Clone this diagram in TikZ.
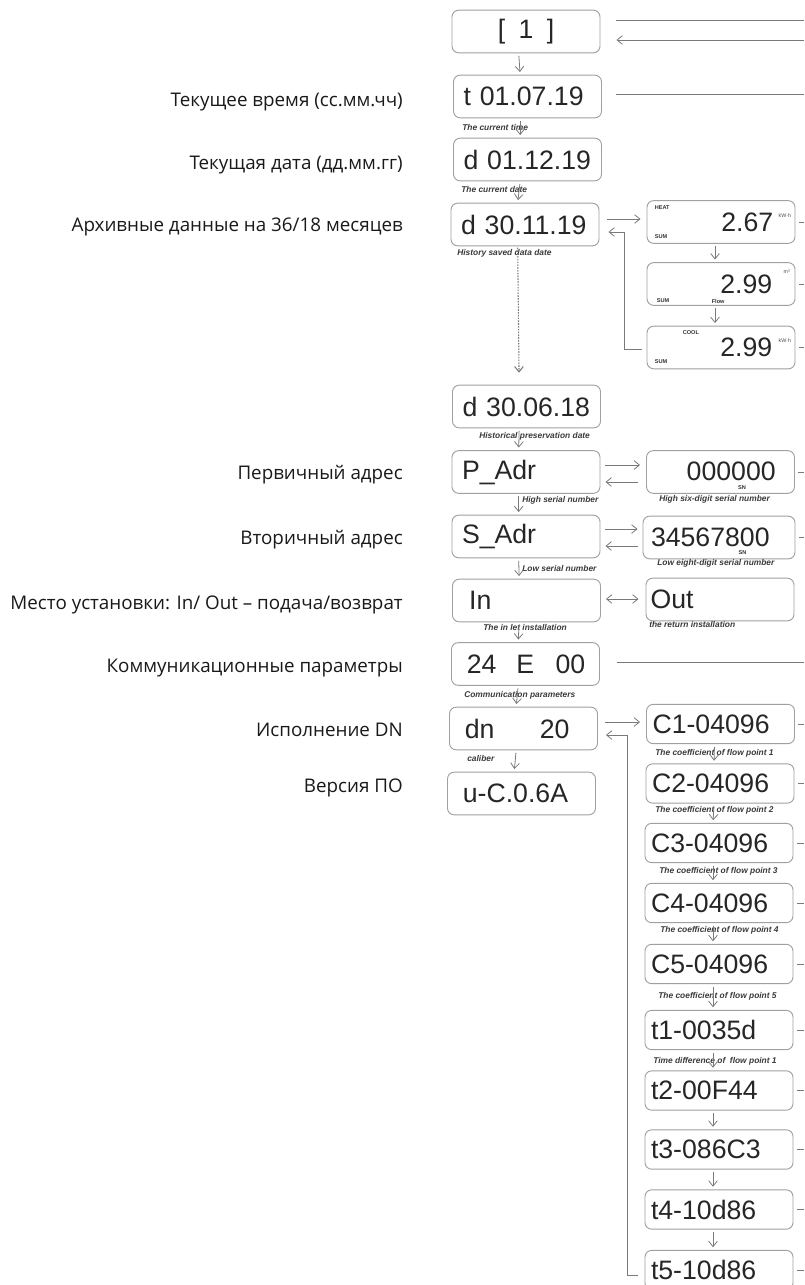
\documentclass[tikz,border=0pt]{standalone}
\usepackage{fontspec}
\setmainfont{Open Sans}
\newfontfamily\lcdfont{Liberation Sans}
\newfontfamily\capfont{Liberation Sans}
\usetikzlibrary{arrows.meta,positioning}

\definecolor{boxgray}{HTML}{A0A0A0}
\definecolor{arrgray}{HTML}{7A7A7A}
\definecolor{capgray}{HTML}{3A3A3A}
\definecolor{seggray}{HTML}{262626}

\tikzset{
	lcd/.style={draw=boxgray, line width=0.7pt, rounded corners=5pt, minimum width=111pt, minimum height=32pt,
		text width=96pt, inner xsep=7.5pt, inner ysep=0pt, align=left, text=seggray, font=\lcdfont\fontsize{20}{20}\selectfont},
	lcds/.style={lcd, minimum height=29.5pt},
	seg/.style={font=\lcdfont\fontsize{20}{20}\selectfont, text=seggray, inner sep=0pt},
	capt/.style={font=\capfont\bfseries\itshape\fontsize{6.3}{7}\selectfont, text=capgray, inner sep=0pt, anchor=west},
	small/.style={font=\capfont\bfseries\fontsize{4.2}{5}\selectfont, text=black!80, inner sep=0pt, anchor=west},
	unit/.style={font=\capfont\fontsize{4}{5}\selectfont, text=black!70, inner sep=0pt, anchor=west},
	lab/.style={font=\fontsize{14.1}{16}\selectfont, text=black!90, anchor=east, inner sep=0pt},
	ln/.style={draw=arrgray, line width=0.6pt},
	arr/.style={ln, -{Straight Barb[length=4pt,width=6.5pt]}},
}

\begin{document}
\begin{tikzpicture}[x=0.75pt, y=-0.75pt]
	\clip (0,0) rectangle (804,1285);
	\coordinate (o1) at (804,20);
	\coordinate (o2) at (804,40);
	\coordinate (o3) at (804,94);
	\coordinate (o9) at (804,662);

	% left column
	\node[lcd, align=center] (cl) at (526,31.5) {[\hspace{10pt}1\hspace{10pt}]};
	\node[lcd] (tim) at (527.5,96.5) {t 01.07.19};
	\node[lcd] (dat) at (527.5,159.5) {d 01.12.19};
	\node[lcd] (his) at (525,224.5) {d 30.11.19};
	\node[lcd] (hisend) at (526.5,406.5) {d 30.06.18};
	\node[lcd] (padr) at (526,472) {P\_Adr};
	\node[lcd] (sadr) at (526,536.5) {S\_Adr};
	\node[lcd] (inl) at (526.5,600.5) {\hspace{5pt}In};
	\node[lcd] (com) at (525.5,664) {\hspace{4pt}24\hspace{15pt}E\hspace{16pt}00};
	\node[lcd] (dn) at (523.5,728.5) {\hspace{4pt}dn\hspace{34pt}20};
	\node[lcd] (ver) at (521.5,793.5) {\hspace{4pt}u-C.0.6A};

	\node[lab] (ltim) at (403,102) {Текущее время (сс.мм.чч)};
	\node[lab] (ldat) at (403,165) {Текущая дата (дд.мм.гг)};
	\node[lab] (lhis) at (403,227) {Архивные данные на 36/18 месяцев};
	\node[lab] (lpadr) at (403,475) {Первичный адрес};
	\node[lab] (lsadr) at (403,540) {Вторичный адрес};
	\node[lab] (linl) at (403,605) {Место установки: In/ Out – подача/возврат};
	\node[lab] (lcom) at (403,668) {Коммуникационные параметры};
	\node[lab] (ldn) at (403,730) {Исполнение DN};
	\node[lab] (lver) at (403,788) {Версия ПО};

	% right column
	\node[lcd] (heat) at (721,222) {};
	\node[lcd] (flow) at (721,284) {};
	\node[lcd] (cool) at (721,347.5) {};
	\node[lcd] (sn6) at (720.5,472) {};
	\node[lcd, minimum width=114pt] (sn8) at (719,537.5) {\hspace{-3pt}34567800};
	\node[lcd] (out) at (720,599.5) {\hspace{-4pt}Out};
	\node[lcds] (c1) at (720.5,724) {\hspace{-3pt}C1-04096};
	\node[lcds] (c2) at (720,783.5) {\hspace{-3pt}C2-04096};
	\node[lcds] (c3) at (719,843) {\hspace{-3pt}C3-04096};
	\node[lcds] (c4) at (719,903) {\hspace{-3pt}C4-04096};
	\node[lcds] (c5) at (719,964) {\hspace{-3pt}C5-04096};
	\node[lcds] (t1) at (719,1030) {\hspace{-3pt}t1-0035d};
	\node[lcds] (t2) at (719,1090.5) {\hspace{-3pt}t2-00F44};
	\node[lcds] (t3) at (719,1149.5) {\hspace{-3pt}t3-086C3};
	\node[lcds] (t4) at (719,1209.5) {\hspace{-3pt}t4-10d86};
	\node[lcds] (t5) at (719,1270) {\hspace{-3pt}t5-10d86};

	\node[seg, anchor=east] (heatv) at ([shift={(-22,0)}]heat.east) {2.67};
	\node[unit] (heatu) at ([shift={(-17,-6)}]heat.east) {kW·h};
	\node[small] (heatt) at ([shift={(8,-14)}]heat.west) {HEAT};
	\node[small] (heats) at ([shift={(8,15)}]heat.west) {SUM};
	\node[seg, anchor=east] (flowv) at ([shift={(-23,0)}]flow.east) {2.99};
	\node[unit] (flowu) at ([shift={(-12,-12)}]flow.east) {m³};
	\node[small] (flows) at ([shift={(10,17)}]flow.west) {SUM};
	\node[small] (flowf) at ([shift={(65,17)}]flow.west) {Flow};
	\node[seg, anchor=east] (coolv) at ([shift={(-23,0)}]cool.east) {2.99};
	\node[unit] (coolu) at ([shift={(-17,-7)}]cool.east) {kW·h};
	\node[small] (coolt) at ([shift={(36,-15)}]cool.west) {COOL};
	\node[small] (cools) at ([shift={(8,14)}]cool.west) {SUM};
	\node[seg, anchor=east] (sn6v) at ([shift={(-19,-1)}]sn6.east) {000000};
	\node[small] (sn6s) at ([shift={(-57,16)}]sn6.east) {SN};
	\node[small] (sn8s) at ([shift={(-57,15)}]sn8.east) {SN};

	% captions
	\node[capt] (ctim) at (462,127) {The current time};
	\node[capt] (cdat) at (461,189) {The current date};
	\node[capt] (chis) at (457,253) {History saved data date};
	\node[capt] (chisend) at (479,436) {Historical preservation date};
	\node[capt] (cpadr) at (522,500) {High serial number};
	\node[capt] (csn6) at (659,499) {High six-digit serial number};
	\node[capt] (csadr) at (522,568) {Low serial number};
	\node[capt] (csn8) at (657,563) {Low eight-digit serial number};
	\node[capt] (cinl) at (483,627) {The in let installation};
	\node[capt] (cout) at (649,624) {the return installation};
	\node[capt] (ccom) at (464,695) {Communication parameters};
	\node[capt] (cdn) at (467,758) {caliber};
	\node[capt] (cc1) at (655,753) {The coefficient of flow point 1};
	\node[capt] (cc2) at (655,810) {The coefficient of flow point 2};
	\node[capt] (cc3) at (659,871) {The coefficient of flow point 3};
	\node[capt] (cc4) at (660,930) {The coefficient of flow point 4};
	\node[capt] (cc5) at (658,996) {The coefficient of flow point 5};
	\node[capt] (ct1) at (653,1061) {Time difference of\ \ flow point 1};

	% connectors
	\draw[ln] ([shift={(16,-11.5)}]cl.east) -- (o1);
	\draw[arr] (o2) -- ([shift={(16,8.5)}]cl.east);
	\draw[ln] ([shift={(14,-2.5)}]tim.east) -- (o3);
	\draw[ln] ([shift={(17,-2)}]com.east) -- (o9);
	\foreach \a/\b in {cl/tim,tim/dat,dat/his,hisend/padr,padr/sadr,sadr/inl,inl/com,com/dn,dn/ver}
		\draw[arr, shorten <=2pt, shorten >=2pt] ([xshift=-5.5]\a.south) -- ([xshift=-5.5]\b.north);
	\draw[arr, line width=0.8pt, dash pattern=on 1.2pt off 0.9pt, shorten <=1pt, shorten >=9pt] ([xshift=-5.5]his.south) -- ([xshift=-5.5]hisend.north);
	\foreach \a/\b in {heat/flow,flow/cool,c1/c2,c2/c3,c3/c4,c4/c5,c5/t1,t1/t2,t2/t3,t3/t4,t4/t5}
		\draw[arr, shorten <=2pt, shorten >=2pt] ([xshift=-4.5]\a.south) -- ([xshift=-4.5]\b.north);
	\foreach \n in {heat,flow,cool,sn6,sn8,c1,c2,c3,c4,c5,t1,t2,t3,t4,t5}
		\draw[ln] ([xshift=2.5]\n.east) -- (\n.east -| o1);
	\draw[arr] ([shift={(8,-5.5)}]his.east) -- ([shift={(-6,-3)}]heat.west);
	\draw[arr] ([shift={(-5,1.5)}]cool.west) -| ([shift={(25,7.5)}]his.east) -- ([shift={(9,7.5)}]his.east);
	\draw[arr] ([shift={(5,-7)}]padr.east) -- ([shift={(-6,-7)}]sn6.west);
	\draw[arr] ([shift={(-8,10)}]sn6.west) -- ([shift={(5,10)}]padr.east);
	\draw[arr] ([shift={(5,-7.5)}]sadr.east) -- ([shift={(-5,-8.5)}]sn8.west);
	\draw[arr] ([shift={(-5,8.5)}]sn8.west) -- ([shift={(5,9.5)}]sadr.east);
	\draw[arr, {Straight Barb[length=4pt,width=6.5pt]}-{Straight Barb[length=4pt,width=6.5pt]}] ([shift={(5,-1.5)}]inl.east) -- ([shift={(-7,-0.5)}]out.west);
	\draw[arr] ([shift={(7,-6.5)}]dn.east) -- ([shift={(-6,-2)}]c1.west);
	\draw[arr] ([shift={(-7,5)}]t5.west) -| ([shift={(29,6.5)}]dn.east) -- ([shift={(8,6.5)}]dn.east);
\end{tikzpicture}
\end{document}
